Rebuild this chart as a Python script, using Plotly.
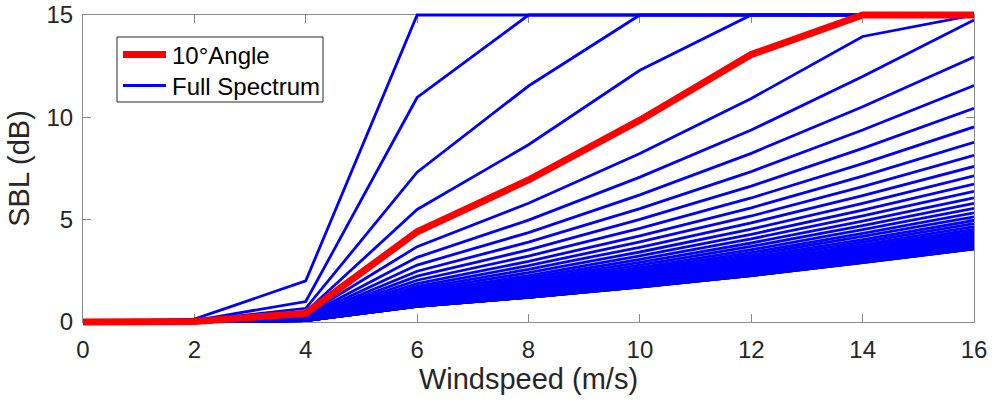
import plotly.graph_objects as go

# ---------------- data ----------------
windspeed = [0, 2, 4, 6, 8, 10, 12, 14, 16]

angles_deg = [2, 4, 6, 8, 10, 12, 14, 16, 18, 20, 22, 24, 26, 28, 30,
              32, 34, 36, 38, 40, 42, 44, 46, 48, 50, 52, 54, 56, 58, 60,
              62, 64, 66, 68, 70, 72, 74, 76, 78, 80, 82, 84, 86, 88, 90]

# red curve: 10 degree angle
angle10_sbl = [0.0, 0.03, 0.42, 4.41, 6.94, 9.86, 13.07, 15.0, 15.0]

# blue "Full Spectrum" family: one value per angle at each windspeed
full_ws0 = [0.00, 0.00, 0.00, 0.00, 0.00, 0.00, 0.00, 0.00, 0.00, 0.00,
            0.00, 0.00, 0.00, 0.00, 0.00, 0.00, 0.00, 0.00, 0.00, 0.00,
            0.00, 0.00, 0.00, 0.00, 0.00, 0.00, 0.00, 0.00, 0.00, 0.00,
            0.00, 0.00, 0.00, 0.00, 0.00, 0.00, 0.00, 0.00, 0.00, 0.00,
            0.00, 0.00, 0.00, 0.00, 0.00]
full_ws2 = [0.14, 0.07, 0.05, 0.04, 0.03, 0.02, 0.02, 0.02, 0.02, 0.01,
            0.01, 0.01, 0.01, 0.01, 0.01, 0.01, 0.01, 0.01, 0.01, 0.01,
            0.01, 0.01, 0.01, 0.01, 0.01, 0.01, 0.01, 0.01, 0.01, 0.01,
            0.01, 0.01, 0.01, 0.01, 0.01, 0.01, 0.01, 0.01, 0.01, 0.01,
            0.01, 0.01, 0.01, 0.01, 0.01]
full_ws4 = [2.01, 1.00, 0.67, 0.50, 0.40, 0.34, 0.29, 0.25, 0.23, 0.20,
            0.19, 0.17, 0.16, 0.15, 0.14, 0.13, 0.13, 0.12, 0.11, 0.11,
            0.10, 0.10, 0.10, 0.09, 0.09, 0.09, 0.09, 0.08, 0.08, 0.08,
            0.08, 0.08, 0.08, 0.08, 0.07, 0.07, 0.07, 0.07, 0.07, 0.07,
            0.07, 0.07, 0.07, 0.07, 0.07]
full_ws6 = [15.0, 10.97, 7.32, 5.50, 4.41, 3.68, 3.16, 2.78, 2.48, 2.24,
            2.04, 1.88, 1.74, 1.63, 1.53, 1.44, 1.37, 1.30, 1.24, 1.19,
            1.14, 1.10, 1.06, 1.03, 1.00, 0.97, 0.95, 0.92, 0.90, 0.88,
            0.87, 0.85, 0.84, 0.83, 0.81, 0.80, 0.80, 0.79, 0.78, 0.78,
            0.77, 0.77, 0.77, 0.77, 0.76]
full_ws8 = [15.0, 15.0, 11.53, 8.66, 6.94, 5.80, 4.98, 4.37, 3.90, 3.52,
            3.22, 2.96, 2.75, 2.57, 2.41, 2.27, 2.15, 2.05, 1.96, 1.87,
            1.80, 1.74, 1.67, 1.62, 1.57, 1.53, 1.49, 1.45, 1.42, 1.39,
            1.37, 1.34, 1.32, 1.30, 1.28, 1.27, 1.25, 1.24, 1.23, 1.22,
            1.22, 1.21, 1.21, 1.21, 1.20]
full_ws10 = [15.0, 15.0, 15.0, 12.30, 9.86, 8.23, 7.08, 6.21, 5.54, 5.01,
             4.57, 4.21, 3.91, 3.65, 3.42, 3.23, 3.06, 2.91, 2.78, 2.66,
             2.56, 2.47, 2.38, 2.30, 2.23, 2.17, 2.12, 2.06, 2.02, 1.98,
             1.94, 1.91, 1.87, 1.85, 1.82, 1.80, 1.78, 1.77, 1.75, 1.74,
             1.73, 1.72, 1.72, 1.71, 1.71]
full_ws12 = [15.0, 15.0, 15.0, 15.0, 13.07, 10.92, 9.38, 8.24, 7.35, 6.64,
             6.06, 5.58, 5.18, 4.84, 4.54, 4.28, 4.06, 3.86, 3.69, 3.53,
             3.39, 3.27, 3.16, 3.06, 2.96, 2.88, 2.81, 2.74, 2.68, 2.62,
             2.57, 2.53, 2.49, 2.45, 2.42, 2.39, 2.36, 2.34, 2.32, 2.30,
             2.29, 2.28, 2.27, 2.27, 2.27]
full_ws14 = [15.0, 15.0, 15.0, 15.0, 15.0, 13.95, 11.99, 10.52, 9.38, 8.48,
             7.74, 7.13, 6.61, 6.18, 5.80, 5.47, 5.19, 4.93, 4.71, 4.51,
             4.33, 4.18, 4.03, 3.90, 3.78, 3.68, 3.58, 3.50, 3.42, 3.35,
             3.29, 3.23, 3.18, 3.13, 3.09, 3.05, 3.02, 2.99, 2.96, 2.94,
             2.93, 2.92, 2.91, 2.90, 2.90]
full_ws16 = [15.0, 15.0, 15.0, 15.0, 15.0, 15.0, 14.76, 12.95, 11.55, 10.44,
             9.53, 8.78, 8.14, 7.60, 7.14, 6.74, 6.38, 6.07, 5.80, 5.55,
             5.33, 5.14, 4.96, 4.81, 4.66, 4.53, 4.41, 4.31, 4.21, 4.12,
             4.04, 3.97, 3.91, 3.85, 3.80, 3.75, 3.71, 3.68, 3.65, 3.62,
             3.61, 3.59, 3.58, 3.57, 3.57]

full_columns = [full_ws0, full_ws2, full_ws4, full_ws6, full_ws8,
                full_ws10, full_ws12, full_ws14, full_ws16]

x_ticks = [0, 2, 4, 6, 8, 10, 12, 14, 16]
y_ticks = [0, 5, 10, 15]
legend_labels = ["10°Angle", "Full Spectrum"]

# ---------------- figure ----------------
W, H = 993, 405
left, right_edge, top, bottom = 83, 974, 15, 322   # visible frame in px
pad = 5                                            # extra room so lines at 0/15 aren't clipped
plot_w = right_edge - left
plot_h = (bottom + pad) - (top - pad)
y_unit_px = (bottom - top) / 15.0
dy = pad / y_unit_px

FONT = "Liberation Sans, Arial, Helvetica, sans-serif"
TXT = "#262626"
AX = "#8a8a8a"
BLUE = "#0000ff"
RED = "#ff0000"
BLUE_W = 2.8
RED_W = 7


def px(xp):
    return (xp - left) / plot_w


def py(yp):
    return ((bottom + pad) - yp) / plot_h


fig = go.Figure()

for i, ang in enumerate(angles_deg):
    fig.add_trace(go.Scatter(
        x=windspeed, y=[col[i] for col in full_columns],
        mode="lines", line=dict(color=BLUE, width=BLUE_W),
        name="Full Spectrum", showlegend=False,
        xaxis="x2", yaxis="y2", hoverinfo="skip"))

fig.add_trace(go.Scatter(
    x=windspeed, y=angle10_sbl, mode="lines",
    line=dict(color=RED, width=RED_W),
    name="10°Angle", showlegend=False, xaxis="x2", yaxis="y2"))

# empty trace to make the frame subplot exist
fig.add_trace(go.Scatter(x=[None], y=[None], xaxis="x", yaxis="y",
                         showlegend=False, hoverinfo="skip"))

axis_common = dict(showline=True, linecolor=AX, linewidth=1, mirror="ticks",
                   ticks="inside", ticklen=8, tickcolor=AX, tickwidth=1,
                   showgrid=False, zeroline=False, automargin=False,
                   tickfont=dict(family=FONT, size=24, color=TXT))

# ---- legend drawn as a boxed key (MATLAB style) ----
box = dict(x0=117, x1=323, y0=37, y1=102)
items = [(54.5, RED, RED_W, legend_labels[0]), (85.5, BLUE, BLUE_W, legend_labels[1])]
shapes = [dict(type="rect", xref="paper", yref="paper",
               x0=px(box["x0"]), x1=px(box["x1"]), y0=py(box["y1"]), y1=py(box["y0"]),
               fillcolor="white", line=dict(color="#262626", width=1), layer="above")]
annotations = []
for yy, col, w, lab in items:
    shapes.append(dict(type="line", xref="paper", yref="paper",
                       x0=px(123), x1=px(166), y0=py(yy), y1=py(yy),
                       line=dict(color=col, width=w), layer="above"))
    annotations.append(dict(text=lab, xref="paper", yref="paper",
                            x=px(170), y=py(yy + 1), xanchor="left", yanchor="middle",
                            showarrow=False,
                            font=dict(family=FONT, size=24, color="#000000")))

fig.update_layout(
    width=W, height=H,
    margin=dict(l=left, r=W - right_edge, t=top - pad, b=H - bottom - pad,
                autoexpand=False),
    paper_bgcolor="white", plot_bgcolor="rgba(0,0,0,0)",
    xaxis=dict(range=[0, 16], domain=[0, 1], anchor="y",
               tickvals=x_ticks, ticklabelstandoff=6,
               title=dict(text="Windspeed (m/s)", standoff=6,
                          font=dict(family=FONT, size=29, color=TXT)),
               **axis_common),
    yaxis=dict(range=[0, 15], domain=[pad / plot_h, 1 - pad / plot_h], anchor="x",
               tickvals=y_ticks, ticklabelstandoff=4,
               title=dict(text="SBL (dB)", standoff=8,
                          font=dict(family=FONT, size=29, color=TXT)),
               **axis_common),
    xaxis2=dict(range=[0, 16], domain=[0, 1], anchor="y2", visible=False,
                automargin=False),
    yaxis2=dict(range=[-dy, 15 + dy], domain=[0, 1], anchor="x2", visible=False,
                automargin=False),
    showlegend=False,
    shapes=shapes,
    annotations=annotations,
)

fig.write_html("out.html")
